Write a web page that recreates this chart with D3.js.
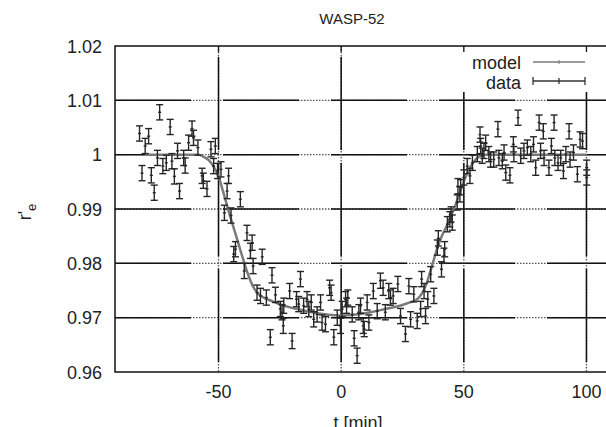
<!DOCTYPE html>
<html>
<head>
<meta charset="utf-8">
<script src="https://cdn.jsdelivr.net/npm/d3@7"></script>
<style>
body { margin: 0; background: #fff; }
text { font-family: "Liberation Sans", Arial, sans-serif; fill: #222; }
</style>
</head>
<body>
<svg></svg>
<script>

// transit light curve
var timeValues = [
	-82.2, -81.2, -79.9, -78.5, -77.4, -76.2, -74.9, -74.0, -72.7, -71.3,
	-69.7, -69.0, -68.0, -66.7, -65.9, -64.2, -63.6, -62.2, -60.8, -60.2,
	-58.4, -56.7, -56.2, -54.7, -53.1, -52.0, -51.3, -50.4, -49.0, -47.6,
	-46.5, -45.9, -44.9, -43.8, -43.1, -41.1, -39.5, -38.4, -37.0, -36.3,
	-35.9, -34.3, -32.9, -32.2, -30.5, -28.9, -28.2, -26.8, -24.8, -24.1,
	-23.6, -23.4, -21.0, -20.0, -18.2, -17.3, -16.6, -15.3, -13.9, -13.2,
	-12.2, -11.2, -9.8, -8.4, -7.8, -6.4, -4.7, -4.1, -3.0, -1.6,
	-0.3, 0.4, 1.8, 2.2, 2.7, 4.5, 5.3, 6.5, 7.2, 7.9,
	9.0, 9.4, 10.6, 11.3, 13.1, 14.7, 16.0, 17.1, 18.0, 19.4,
	20.1, 21.2, 23.1, 24.2, 26.2, 27.6, 28.3, 29.6, 31.0, 32.4,
	32.8, 33.8, 34.4, 35.3, 36.5, 37.8, 39.2, 39.6, 40.9, 41.9,
	42.2, 43.3, 44.3, 44.8, 45.3, 47.3, 47.6, 48.4, 48.7, 50.0,
	51.4, 52.5, 53.5, 55.5, 56.6, 56.9, 57.5, 58.2, 58.9, 60.2,
	60.9, 62.2, 63.9, 64.3, 65.7, 66.4, 67.1, 68.8, 70.2, 70.4,
	72.1, 73.2, 74.5, 75.9, 77.3, 78.4, 79.3, 80.7, 81.3, 82.4,
	82.7, 84.7, 85.7, 86.8, 87.1, 88.4, 89.5, 90.6, 91.6, 92.9,
	93.3, 94.7, 96.3, 97.4, 98.4, 100.1, 100.1
];
var fluxValues = [
	1.0039, 0.9966, 1.0016, 1.0034, 0.9962, 0.9930, 0.9994, 1.0078, 0.9979, 0.9985,
	1.0051, 0.9988, 0.9960, 1.0007, 0.9933, 0.9994, 0.9980, 1.0022, 1.0048, 1.0031,
	1.0013, 0.9961, 0.9952, 0.9937, 1.0010, 0.9979, 1.0016, 0.9970, 0.9973, 0.9893,
	0.9933, 0.9961, 0.9888, 0.9817, 0.9826, 0.9918, 0.9786, 0.9856, 0.9823, 0.9838,
	0.9795, 0.9746, 0.9740, 0.9812, 0.9737, 0.9664, 0.9778, 0.9742, 0.9716, 0.9710,
	0.9685, 0.9722, 0.9749, 0.9657, 0.9734, 0.9725, 0.9771, 0.9722, 0.9734, 0.9716,
	0.9728, 0.9697, 0.9706, 0.9728, 0.9691, 0.9688, 0.9755, 0.9746, 0.9664, 0.9700,
	0.9685, 0.9716, 0.9734, 0.9722, 0.9737, 0.9706, 0.9662, 0.9630, 0.9710, 0.9722,
	0.9685, 0.9679, 0.9728, 0.9691, 0.9749, 0.9712, 0.9768, 0.9755, 0.9710, 0.9749,
	0.9737, 0.9740, 0.9762, 0.9703, 0.9670, 0.9758, 0.9697, 0.9743, 0.9694, 0.9716,
	0.9771, 0.9749, 0.9703, 0.9734, 0.9780, 0.9740, 0.9829, 0.9846, 0.9789, 0.9814,
	0.9826, 0.9872, 0.9881, 0.9890, 0.9875, 0.9912, 0.9942, 0.9927, 0.9940, 0.9958,
	0.9979, 0.9961, 0.9985, 1.0001, 1.0037, 1.0016, 0.9998, 1.0007, 1.0022, 1.0001,
	0.9991, 0.9991, 1.0047, 0.9994, 0.9988, 1.0004, 0.9967, 0.9962, 1.0019, 1.0001,
	1.0068, 0.9998, 1.0007, 1.0013, 1.0001, 1.0019, 0.9976, 1.0059, 1.0007, 1.0043,
	0.9994, 0.9976, 1.0016, 1.0059, 0.9994, 0.9985, 0.9994, 0.9970, 1.0001, 1.0043,
	0.9991, 1.0004, 0.9964, 1.0028, 1.0025, 0.9976, 0.9958
];
var fluxError = 0.0014;

var modelTime = [-80, -58, -56, -54, -52, -50, -48, -46, -44, -42, -40, -38, -36, -34, -32, -28, -24, -18, -12, -6, 0,
	6, 12, 18, 24, 28, 31, 33, 35, 37, 39, 41, 43, 45, 47, 49, 51, 53, 55, 57, 59, 100];
var modelFlux = [1.0, 1.0, 0.9996, 0.999, 0.9978, 0.996, 0.993, 0.9898, 0.9868, 0.9838, 0.9808, 0.978, 0.9758, 0.9745, 0.9738, 0.973, 0.9723, 0.9716, 0.971, 0.9706, 0.9704,
	0.9706, 0.971, 0.9716, 0.9722, 0.9728, 0.9734, 0.9745, 0.9765, 0.9795, 0.9825, 0.985, 0.9868, 0.989, 0.9912, 0.9938, 0.9962, 0.998, 0.9992, 0.9998, 1.0, 1.0];

var xTicks = [-50, 0, 50, 100];
var yTicks = [0.96, 0.97, 0.98, 0.99, 1, 1.01, 1.02];
var yTickLabels = ["0.96", "0.97", "0.98", "0.99", "1", "1.01", "1.02"];

var w = 606,
    h = 427,
    plotLeft = 115,
    plotRight = 611,
    plotTop = 46,
    plotBottom = 372;

var svg = d3.select("svg")
	.attr("width", w)
	.attr("height", h)

var xScale = d3.scaleLinear()
	.domain([-92.2, 110])
	.range([plotLeft, plotRight])
var yScale = d3.scaleLinear()
	.domain([0.96, 1.02])
	.range([plotBottom, plotTop])

// grid: gnuplot dotted grid came out mostly solid in the scaled image
var innerY = yTicks.slice(1, yTicks.length - 1);
var gridH = svg.append("g");
gridH.selectAll(".dot")
	.data(innerY)
	.join("line")
	.attr("x1", plotLeft).attr("x2", plotRight)
	.attr("y1", function(d){ return yScale(d); })
	.attr("y2", function(d){ return yScale(d); })
	.attr("stroke", "#555")
	.attr("stroke-width", 1.3)
	.attr("stroke-dasharray", "1.5,1.5")
gridH.selectAll(".solid")
	.data(innerY)
	.join("line")
	.attr("x1", plotLeft).attr("x2", plotRight)
	.attr("y1", function(d){ return yScale(d); })
	.attr("y2", function(d){ return yScale(d); })
	.attr("stroke", "#111")
	.attr("stroke-width", 1.5)
	.attr("stroke-dasharray", "76,32")

var gridV = svg.append("g");
gridV.selectAll(".dot")
	.data(xTicks)
	.join("line")
	.attr("x1", function(d){ return xScale(d); })
	.attr("x2", function(d){ return xScale(d); })
	.attr("y1", plotTop).attr("y2", plotBottom)
	.attr("stroke", "#555")
	.attr("stroke-width", 1.3)
	.attr("stroke-dasharray", "1.5,1.5")
gridV.selectAll(".solid")
	.data(xTicks)
	.join("line")
	.attr("x1", function(d){ return xScale(d); })
	.attr("x2", function(d){ return xScale(d); })
	.attr("y1", plotTop).attr("y2", plotBottom)
	.attr("stroke", "#111")
	.attr("stroke-width", 1.5)
	.attr("stroke-dasharray", "93,13")
	.attr("stroke-dashoffset", 95)

// model curve
var line = d3.line()
	.x(function(d){ return xScale(d[0]); })
	.y(function(d){ return yScale(d[1]); })
	.curve(d3.curveMonotoneX)

svg.append("path")
	.datum(d3.zip(modelTime, modelFlux))
	.attr("d", line)
	.attr("fill", "none")
	.attr("stroke", "#7a7a7a")
	.attr("stroke-width", 2.5)

// data with error bars
var points = d3.zip(timeValues, fluxValues);
var bars = svg.append("g")
	.attr("stroke", "#262626")
	.attr("stroke-width", 1.4)
	.selectAll("g")
	.data(points)
	.join("g")
	.attr("transform", function(d){
		return "translate(" + xScale(d[0]) + ",0)";
	})
bars.append("line")
	.attr("y1", function(d){ return yScale(d[1] - fluxError); })
	.attr("y2", function(d){ return yScale(d[1] + fluxError); })
bars.append("line")
	.attr("x1", -3.5).attr("x2", 3.5)
	.attr("y1", function(d){ return yScale(d[1] + fluxError); })
	.attr("y2", function(d){ return yScale(d[1] + fluxError); })
bars.append("line")
	.attr("x1", -3.5).attr("x2", 3.5)
	.attr("y1", function(d){ return yScale(d[1] - fluxError); })
	.attr("y2", function(d){ return yScale(d[1] - fluxError); })
bars.append("line")
	.attr("x1", -1.5).attr("x2", 1.5)
	.attr("y1", function(d){ return yScale(d[1]); })
	.attr("y2", function(d){ return yScale(d[1]); })

// legend box (opaque)
svg.append("rect")
	.attr("x", 372).attr("y", plotTop + 1)
	.attr("width", plotRight - 372).attr("height", 45)
	.attr("fill", "#fff")

svg.append("text")
	.attr("x", 521).attr("y", 69)
	.attr("text-anchor", "end")
	.style("font-size", "18px")
	.text("model")
svg.append("text")
	.attr("x", 521).attr("y", 89)
	.attr("text-anchor", "end")
	.style("font-size", "18px")
	.text("data")

var lg = svg.append("g");
lg.append("line").attr("x1", 533).attr("x2", 585).attr("y1", 62).attr("y2", 62)
	.attr("stroke", "#7a7a7a").attr("stroke-width", 1.5)
lg.append("line").attr("x1", 559).attr("x2", 559).attr("y1", 60).attr("y2", 64)
	.attr("stroke", "#7a7a7a").attr("stroke-width", 1)
lg.append("line").attr("x1", 533).attr("x2", 585).attr("y1", 81).attr("y2", 81)
	.attr("stroke", "#333").attr("stroke-width", 1.3)
lg.selectAll(".cap")
	.data([533, 559, 585])
	.join("line")
	.attr("x1", function(d){ return d; })
	.attr("x2", function(d){ return d; })
	.attr("y1", function(d, i){ return i == 1 ? 78 : 77; })
	.attr("y2", function(d, i){ return i == 1 ? 84 : 85; })
	.attr("stroke", "#333").attr("stroke-width", 1.3)

// top ticks show above the legend box
svg.selectAll(".ttick")
	.data(xTicks)
	.join("line")
	.attr("x1", function(d){ return xScale(d); })
	.attr("x2", function(d){ return xScale(d); })
	.attr("y1", plotTop).attr("y2", plotTop + 6)
	.attr("stroke", "#111")
	.attr("stroke-width", 1.3)

// frame
svg.append("rect")
	.attr("x", plotLeft).attr("y", plotTop)
	.attr("width", plotRight - plotLeft).attr("height", plotBottom - plotTop)
	.attr("fill", "none")
	.attr("stroke", "#111")
	.attr("stroke-width", 1.5)

// tick labels
svg.selectAll(".xlab")
	.data(xTicks)
	.join("text")
	.attr("x", function(d){ return xScale(d); })
	.attr("y", 398)
	.attr("text-anchor", "middle")
	.style("font-size", "18px")
	.text(function(d){ return d; })
svg.selectAll(".ylab")
	.data(yTicks)
	.join("text")
	.attr("x", 102)
	.attr("y", function(d){ return yScale(d) + 6.5; })
	.attr("text-anchor", "end")
	.style("font-size", "18px")
	.text(function(d, i){ return yTickLabels[i]; })

// titles
svg.append("text")
	.attr("x", 352).attr("y", 24)
	.attr("text-anchor", "middle")
	.style("font-size", "15px")
	.text("WASP-52")
svg.append("text")
	.attr("x", 358).attr("y", 429)
	.attr("text-anchor", "middle")
	.style("font-size", "18px")
	.text("t [min]")

var ylabel = svg.append("text")
	.attr("transform", "translate(31,212) rotate(-90)")
	.attr("text-anchor", "middle")
	.style("font-size", "18px")
ylabel.append("tspan").text("r'")
ylabel.append("tspan")
	.attr("dy", 5)
	.style("font-size", "13px")
	.text("e")

</script>
</body>
</html>
